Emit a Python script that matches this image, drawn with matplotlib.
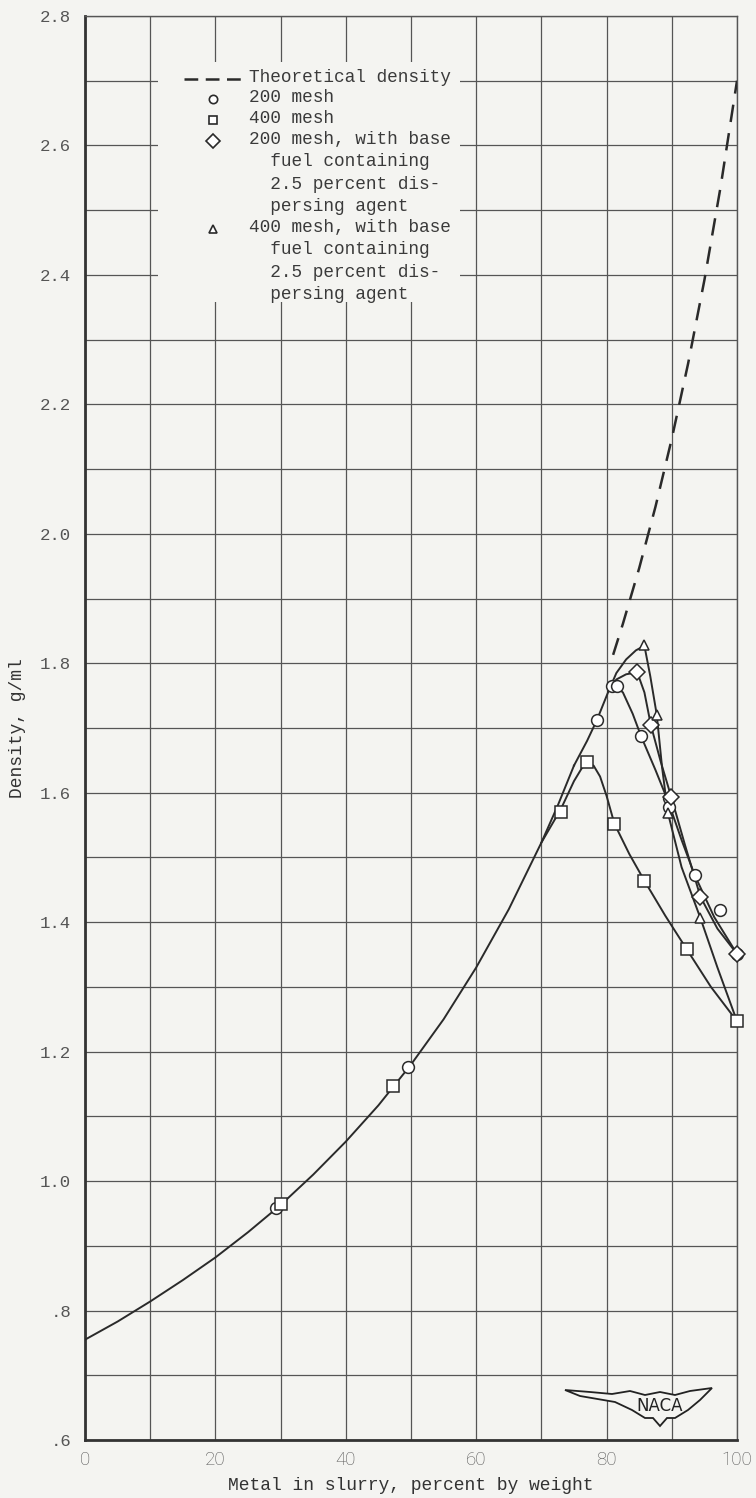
import matplotlib.pyplot as plt
from matplotlib.patches import Rectangle, Polygon

plt.rcParams['font.family'] = ['Liberation Mono', 'DejaVu Sans Mono']

# theoretical density (solid part shared by all curves, then dashed)
theo_x = [0, 5, 10, 15, 20, 25, 30, 35, 40, 45, 50, 55, 60, 65, 70, 72.5, 75]
theo_y = [0.755, 0.783, 0.814, 0.847, 0.882, 0.921, 0.963, 1.010, 1.061, 1.117,
          1.180, 1.250, 1.330, 1.420, 1.523, 1.580, 1.642]
dash_x = [81, 82.5, 85, 87.5, 90, 92.5, 95, 97.5, 100]
dash_y = [1.813, 1.861, 1.947, 2.042, 2.147, 2.263, 2.392, 2.537, 2.70]

# faired curves through the data
c200_x = [75, 77, 78.5, 80.3, 81.3, 82.5, 84, 85.3, 87.5, 89.5, 91.5, 93.5, 96.5, 100]
c200_y = [1.642, 1.68, 1.712, 1.757, 1.765, 1.755, 1.722, 1.687, 1.635, 1.585, 1.527, 1.473, 1.408, 1.351]
c400_x = [70, 73, 75, 76.2, 77, 78, 79, 80, 81.2, 83.5, 85.8, 89, 92.3, 96, 100]
c400_y = [1.523, 1.575, 1.618, 1.638, 1.645, 1.642, 1.625, 1.595, 1.552, 1.505, 1.464, 1.41, 1.358, 1.30, 1.247]
c200d_x = [80.3, 81.5, 83, 84.7, 85.8, 86.8, 88.3, 89.9, 92, 94.4, 97, 100]
c200d_y = [1.757, 1.775, 1.783, 1.786, 1.755, 1.704, 1.648, 1.594, 1.52, 1.439, 1.39, 1.351]
c400d_x = [80.3, 81.5, 83, 84.5, 85.8, 86.7, 87.7, 88.5, 89.4, 91.5, 94.4, 97, 100]
c400d_y = [1.757, 1.785, 1.806, 1.82, 1.827, 1.78, 1.72, 1.64, 1.569, 1.485, 1.406, 1.33, 1.247]

# measured points
m200_x = [29.3, 49.6, 78.5, 80.8, 81.6, 85.3, 89.5, 89.6, 93.5, 97.4, 100]
m200_y = [0.958, 1.177, 1.712, 1.765, 1.765, 1.687, 1.592, 1.578, 1.473, 1.419, 1.351]
m400_x = [30.1, 47.3, 73.0, 77.0, 81.2, 85.8, 92.3, 100]
m400_y = [0.964, 1.147, 1.570, 1.648, 1.552, 1.464, 1.358, 1.247]
m200d_x = [84.7, 86.8, 89.9, 94.4, 100]
m200d_y = [1.786, 1.704, 1.594, 1.439, 1.351]
m400d_x = [85.8, 87.7, 89.4, 94.4]
m400d_y = [1.829, 1.720, 1.569, 1.406]

legend_rows = [('--', 'Theoretical density'),
               ('o', '200 mesh'),
               ('s', '400 mesh'),
               ('D', '200 mesh, with base\n  fuel containing\n  2.5 percent dis-\n  persing agent'),
               ('^', '400 mesh, with base\n  fuel containing\n  2.5 percent dis-\n  persing agent')]

bg = '#f4f4f1'
ink = '#2a2a2a'
grid_c = '#555555'
txt = '#555555'

fig = plt.figure(figsize=(7.56, 14.98), dpi=100, facecolor=bg)
ax = fig.add_axes([85 / 756, 1 - 1440 / 1498, 652 / 756, 1424 / 1498])
ax.set_facecolor(bg)

ax.set_xlim(0, 100)
ax.set_ylim(0.6, 2.8)
ax.set_xticks(range(0, 101, 10))
ax.set_xticklabels([str(v) if v % 20 == 0 else '' for v in range(0, 101, 10)],
                   family='Roboto', fontweight='light', fontsize=13.5, color='#555555')
yt = [round(0.6 + 0.1 * i, 1) for i in range(23)]
ax.set_yticks(yt)
ylab = []
for i, v in enumerate(yt):
    if i % 2 == 0:
        s = '%.1f' % v
        ylab.append(s[1:] if s.startswith('0') else s)
    else:
        ylab.append('')
ax.set_yticklabels(ylab, fontsize=12.5, color=txt)
ax.tick_params(axis='y', length=0, pad=10)
ax.tick_params(axis='x', length=0, pad=8)
ax.grid(True, color=grid_c, lw=0.9)
for side in ['left', 'bottom']:
    ax.spines[side].set_linewidth(2.0)
    ax.spines[side].set_color('#333333')
for side in ['top', 'right']:
    ax.spines[side].set_linewidth(1.0)
    ax.spines[side].set_color('#555555')

ax.set_xlabel('Metal in slurry, percent by weight', fontsize=13, color='#333333', labelpad=6)
ax.set_ylabel('Density, g/ml', fontsize=13, color='#333333', labelpad=10)

# curves
lw = 1.4
ax.plot(theo_x, theo_y, color=ink, lw=lw, zorder=3)
ax.plot(dash_x, dash_y, color=ink, lw=1.8, dashes=(7, 4.5), zorder=3)
for cx, cy in [(c200_x, c200_y), (c400_x, c400_y), (c200d_x, c200d_y), (c400d_x, c400d_y)]:
    ax.plot(cx, cy, color=ink, lw=lw, zorder=3)

mk = dict(linestyle='none', mfc='white', mec=ink, mew=1.1, zorder=5, clip_on=False)
ax.plot(m200_x, m200_y, marker='o', ms=8.5, **mk)
ax.plot(m400_x, m400_y, marker='s', ms=9, **mk)
ax.plot(m200d_x, m200d_y, marker='D', ms=8.5, **mk)
ax.plot(m400d_x, m400d_y, marker='^', ms=7.5, **mk)

# legend drawn by hand over a blank patch of grid
def ax_xy(px, py):
    return (px - 85) / 652, (1440 - py) / 1424

x0, y0 = ax_xy(158, 302)
x1, y1 = ax_xy(460, 62)
ax.add_patch(Rectangle((x0, y0), x1 - x0, y1 - y0, transform=ax.transAxes,
                       facecolor=bg, edgecolor='none', zorder=2))
row_py = [78, 98, 119, 140, 228]
for (m, label), py in zip(legend_rows, row_py):
    tx, ty = ax_xy(249, py - 9)
    ax.text(tx, ty, label, transform=ax.transAxes, fontsize=12.8, color='#3a3a3a',
            va='top', ha='left', linespacing=1.41, zorder=6)
    kx, ky = ax_xy(213, py + 1)
    if m == '--':
        ax.plot([ax_xy(184, 0)[0], ax_xy(242, 0)[0]], [ky, ky], transform=ax.transAxes,
                color=ink, lw=1.8, dashes=(5.5, 3), zorder=6)
    else:
        ax.plot([kx], [ky], transform=ax.transAxes, marker=m,
                ms={'o': 6, 's': 6, 'D': 7, '^': 5.5}[m],
                mfc='white', mec=ink, mew=1.2, zorder=6)

# NACA wing emblem
wing_px = [(565, 1390), (590, 1392), (612, 1394), (630, 1391), (645, 1395), (660, 1392),
           (675, 1395), (690, 1391), (712, 1388), (700, 1400), (688, 1410), (675, 1418),
           (667, 1418), (660, 1426), (653, 1418), (645, 1418), (632, 1410), (615, 1402),
           (580, 1396)]
wing = Polygon([ax_xy(px, py) for px, py in wing_px], closed=True, transform=ax.transAxes,
               facecolor=bg, edgecolor='#222222', lw=1.3, zorder=4)
ax.add_patch(wing)
nx, ny = ax_xy(660, 1406)
ax.text(nx, ny, 'NACA', transform=ax.transAxes, family='DejaVu Sans', fontsize=12,
        color='#222222', ha='center', va='center', zorder=5)

fig.savefig('out.png', dpi=100, facecolor=bg)
